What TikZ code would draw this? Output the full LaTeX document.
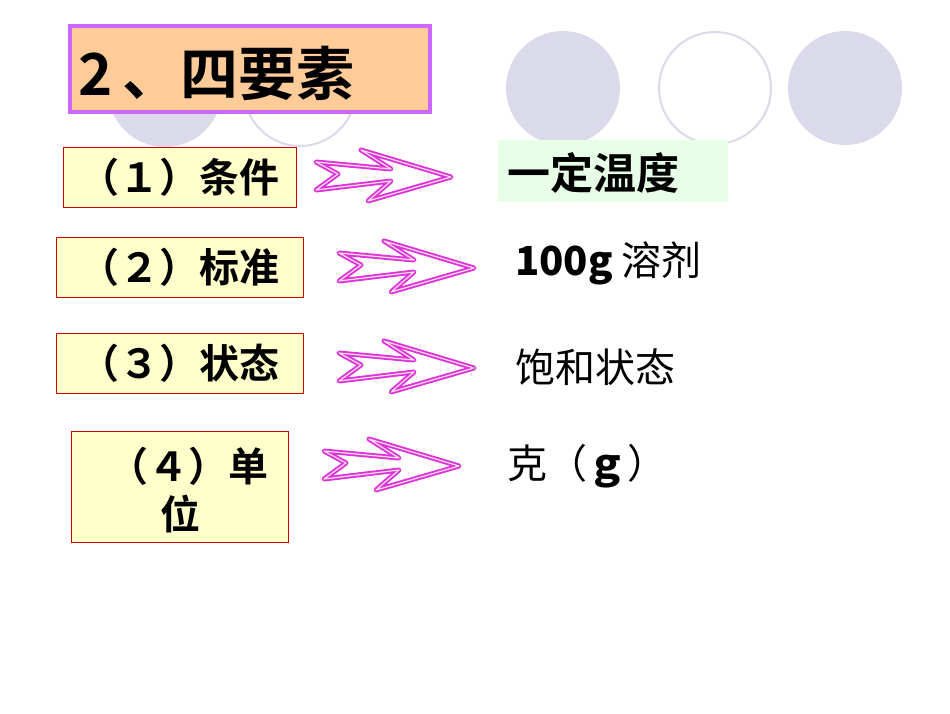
\documentclass[tikz,border=0pt]{standalone}
\usepackage{fontspec}
\setmainfont{Liberation Sans}
\newfontfamily\cjk{Noto Sans CJK SC}
\newfontfamily\cjkb{Noto Sans CJK SC Bold}
\definecolor{circ}{HTML}{DADAEA}
\definecolor{peach}{HTML}{FFCC99}
\definecolor{purp}{HTML}{CC66FF}
\definecolor{lyel}{HTML}{FFFFCC}
\definecolor{mag}{HTML}{DD33DD}
\definecolor{lgreen}{HTML}{E6FFE6}
\begin{document}
\begin{tikzpicture}[x=1pt,y=-1pt,
  fillc/.style={fill=circ},
  linec/.style={draw=circ,line width=2},
  lbox/.style={draw=red!80!black,fill=lyel,line width=0.8,inner sep=0,font=\cjkb\fontsize{40}{46}\selectfont,align=center},
  rtext/.style={anchor=west,inner sep=0,font=\cjkb\fontsize{43}{48}\selectfont},
  arr/.pic={\draw[mag,line width=5,line join=round] (0,-15)--(22,-3)--(0,13)--(75,4)--(52,24)--(135,0)--(45,-27)--(75,-8)--cycle;
            \draw[pink!50!white,line width=1.2,line join=round] (0,-15)--(22,-3)--(0,13)--(75,4)--(52,24)--(135,0)--(45,-27)--(75,-8)--cycle;}]
\useasboundingbox[fill=white] (0,0) rectangle (950,713);
\fill[fillc] (165,90) circle (57);
\draw[linec] (300,90) circle (56);
\fill[fillc] (563,88) circle (57);
\draw[linec] (715,88) circle (56);
\fill[fillc] (845,88) circle (57);
\node[draw=purp,fill=peach,line width=4,minimum width=360,minimum height=86,inner sep=0] (title) at (250,69) {};
\node[anchor=west,inner sep=0,font=\cjkb\fontsize{58}{64}\selectfont] (tt) at (78,73) {2\,、四要素};
\node[lbox,minimum width=233,minimum height=60] (b1) at (179.5,177) {（１）条件};
\node[lbox,minimum width=247,minimum height=60] (b2) at (179.5,267) {（２）标准};
\node[lbox,minimum width=247,minimum height=60] (b3) at (179.5,363) {（３）状态};
\node[lbox,minimum width=217,minimum height=111] (b4) at (179.5,486.5) {};
\node[inner sep=0,font=\cjkb\fontsize{40}{46}\selectfont] (b4t1) at (188,466) {（４）单};
\node[inner sep=0,font=\cjkb\fontsize{40}{46}\selectfont] (b4t2) at (180,514) {位};
\node[fill=lgreen,minimum width=230,minimum height=62,inner sep=0] (g) at (613,171) {};
\node[rtext] (r1) at (507,173) {一定温度};
\node[rtext,font=\cjk\fontsize{40}{46}\selectfont] (r2) at (515,263) {\textbf{100g} 溶剂};
\node[rtext,font=\cjk\fontsize{40}{46}\selectfont] (r3) at (515,367) {饱和状态};
\node[rtext,font=\cjk\fontsize{40}{46}\selectfont] (r4) at (507,466) {克（\textbf{ｇ}）};
\pic at (316,177) {arr};
\pic at (339,268) {arr};
\pic at (339,368) {arr};
\pic at (324,466) {arr};
\end{tikzpicture}
\end{document}
